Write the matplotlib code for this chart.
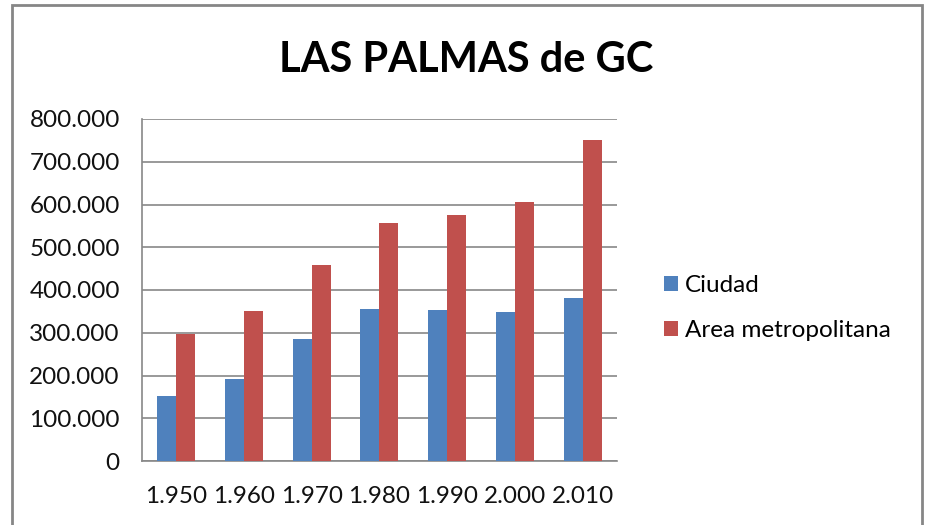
import matplotlib.pyplot as plt
from matplotlib.patches import Rectangle
import numpy as np

plt.rcParams['font.family'] = ['Lato', 'DejaVu Sans']

years = ['1.950', '1.960', '1.970', '1.980', '1.990', '2.000', '2.010']
ciudad = [152500, 192000, 285000, 356000, 353000, 348000, 381000]
area_metro = [298000, 351000, 459000, 557000, 576000, 606000, 752000]
yticks = [0, 100000, 200000, 300000, 400000, 500000, 600000, 700000, 800000]
ytick_labels = ['0', '100.000', '200.000', '300.000', '400.000', '500.000',
                '600.000', '700.000', '800.000']

fig = plt.figure(figsize=(9.28, 5.25), dpi=100)
ax = fig.add_axes([142/928, 1 - 461/525, (617-142)/928, (461-119)/525])

x = np.arange(len(years))
w = 0.28
ax.bar(x - w/2, ciudad, w, color='#4f81bd', label='Ciudad', zorder=3)
ax.bar(x + w/2, area_metro, w, color='#c0504d', label='Area metropolitana', zorder=3)

ax.set_xlim(-0.5, len(years) - 0.5)
ax.set_ylim(0, 800000)
ax.set_yticks(yticks)
ax.set_yticklabels(ytick_labels)
ax.set_xticks(x)
ax.set_xticklabels(years)
ax.tick_params(length=0, labelsize=17.5, colors='#111111')
ax.tick_params(axis='y', pad=16)
ax.tick_params(axis='x', pad=18)
ax.yaxis.grid(True, color='#888888', linewidth=1.2, zorder=0)
for s in ['top', 'right']:
    ax.spines[s].set_visible(False)
for s in ['left', 'bottom']:
    ax.spines[s].set_color('#888888')
    ax.spines[s].set_linewidth(1.2)

fig.text(466/928, 1 - 60/525, 'LAS PALMAS de GC', ha='center', va='center',
         fontsize=30, fontweight='bold')

ax.legend(loc='center left', bbox_to_anchor=(642/928, 1 - 308/525),
          bbox_transform=fig.transFigure, frameon=False, fontsize=17.5,
          handlelength=0.6, handleheight=0.6, handletextpad=0.25, labelspacing=1.0)

fig.patches.append(Rectangle((12/928, -0.05), (922-12)/928, 1.05 - 5/525,
                             transform=fig.transFigure, fill=False,
                             edgecolor='#868686', linewidth=2))

fig.savefig('out.png', dpi=100)
